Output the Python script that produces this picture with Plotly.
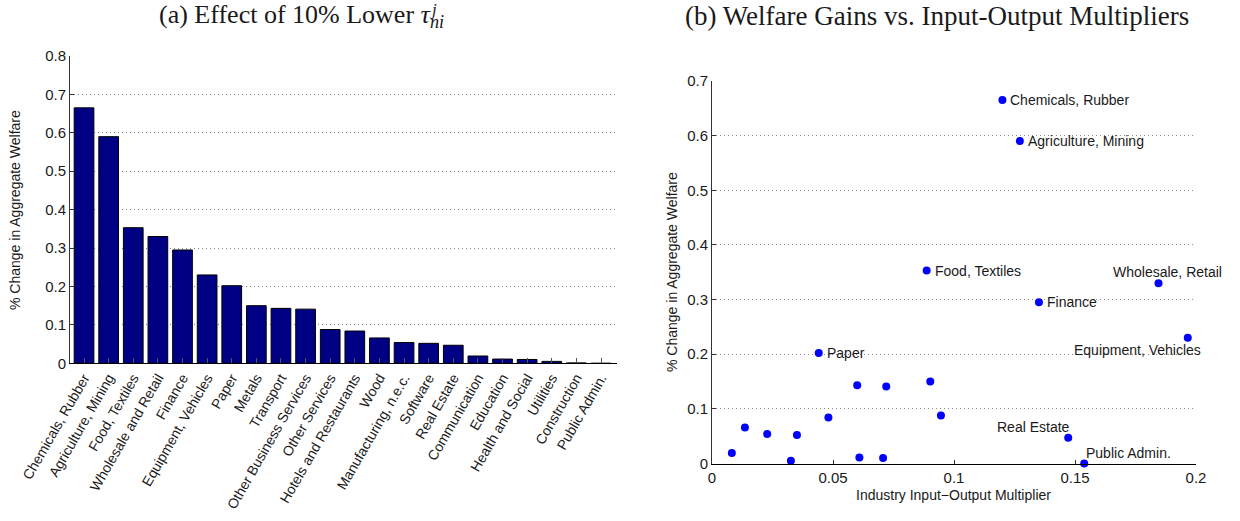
import plotly.graph_objects as go

# ---------------- data ----------------
sectors = [
    "Chemicals, Rubber", "Agriculture, Mining", "Food, Textiles", "Wholesale and Retail",
    "Finance", "Equipment, Vehicles", "Paper", "Metals", "Transport",
    "Other Business Services", "Other Services", "Hotels and Restaurants", "Wood",
    "Manufacturing, n.e.c.", "Software", "Real Estate", "Communication", "Education",
    "Health and Social", "Utilities", "Construction", "Public Admin.",
]
welfare_change = [
    0.665, 0.590, 0.353, 0.330, 0.295, 0.230, 0.202, 0.150, 0.143, 0.141, 0.088,
    0.084, 0.066, 0.054, 0.052, 0.047, 0.019, 0.011, 0.010, 0.005, 0.001, 0.000,
]
io_multiplier = [
    0.1200, 0.1272, 0.0887, 0.1845, 0.1351, 0.1966, 0.0441, 0.0902, 0.0600, 0.0720,
    0.0946, 0.0481, 0.0136, 0.0228, 0.0351, 0.1472, 0.0082, 0.0609, 0.0707, 0.0326,
    None, 0.1538,
]
point_labels = [
    "Chemicals, Rubber", "Agriculture, Mining", "Food, Textiles", "Wholesale, Retail",
    "Finance", "Equipment, Vehicles", "Paper", "", "", "", "", "", "", "", "",
    "Real Estate", "", "", "", "", "", "Public Admin.",
]
y_ticks_a = [0, 0.1, 0.2, 0.3, 0.4, 0.5, 0.6, 0.7, 0.8]
y_ticks_b = [0, 0.1, 0.2, 0.3, 0.4, 0.5, 0.6, 0.7]
x_ticks_b = [0, 0.05, 0.1, 0.15, 0.2]

# ---------------- styling ----------------
W, H = 1240, 521
SANS = "Liberation Sans, Arial, sans-serif"
SERIF = "Liberation Serif, Times New Roman, serif"
TXT = "#1a1a1a"
BAR_FILL = "#000085"
DOT = "#0000ff"
GRID = "#8a8a8a"
GRID_DASH = "1px,3px"


def px(x):
    return x / W


def py(y):
    return 1 - y / H


# label placement for the scatter annotations: (xanchor, xshift, yshift)
label_place = {
    "Wholesale, Retail": ("center", 9, 11),
    "Equipment, Vehicles": ("right", 15, -12),
    "Real Estate": ("right", 4, 11),
    "Public Admin.": ("left", 0, 11),
}


def tick_text(v):
    return "0" if v == 0 else ("%g" % v)


fig = go.Figure()

fig.add_trace(go.Bar(
    x=sectors, y=welfare_change, xaxis="x", yaxis="y",
    marker=dict(color=BAR_FILL, line=dict(color="#000000", width=1)),
    showlegend=False,
))

mx = [m for m in io_multiplier if m is not None]
my = [w for m, w in zip(io_multiplier, welfare_change) if m is not None]
fig.add_trace(go.Scatter(
    x=mx, y=my, xaxis="x2", yaxis="y2", mode="markers",
    marker=dict(color=DOT, size=8, line=dict(width=0)),
    showlegend=False, cliponaxis=False,
))

annotations = []
for m, w, lab in zip(io_multiplier, welfare_change, point_labels):
    if not lab or m is None:
        continue
    xa, xs, ys = label_place.get(lab, ("left", 6, 0))
    annotations.append(dict(
        x=m, y=w, xref="x2", yref="y2", text=lab, showarrow=False,
        xanchor=xa, yanchor="middle", xshift=xs, yshift=ys,
        font=dict(family=SANS, size=14, color=TXT),
    ))

# panel titles
annotations += [
    dict(x=px(446), y=py(16), xref="paper", yref="paper", xanchor="right", yanchor="middle",
         text="(a) Effect of 10% Lower <i>τ</i><sub><i>ni</i></sub>", showarrow=False,
         font=dict(family=SERIF, size=26, color=TXT)),
    dict(x=px(433), y=py(10), xref="paper", yref="paper", xanchor="center", yanchor="middle",
         text="<i>j</i>", showarrow=False, font=dict(family=SERIF, size=17, color=TXT)),
    dict(x=px(937), y=py(16), xref="paper", yref="paper", xanchor="center", yanchor="middle",
         text="(b) Welfare Gains vs. Input-Output Multipliers", showarrow=False,
         font=dict(family=SERIF, size=27, color=TXT)),
    # axis titles
    dict(x=px(15), y=py(210), xref="paper", yref="paper", xanchor="center", yanchor="middle",
         text="% Change in Aggregate Welfare", textangle=-90, showarrow=False,
         font=dict(family=SANS, size=14, color=TXT)),
    dict(x=px(672), y=py(272), xref="paper", yref="paper", xanchor="center", yanchor="middle",
         text="% Change in Aggregate Welfare", textangle=-90, showarrow=False,
         font=dict(family=SANS, size=14, color=TXT)),
    dict(x=px(953), y=py(495), xref="paper", yref="paper", xanchor="center", yanchor="middle",
         text="Industry Input\u2212Output Multiplier", showarrow=False,
         font=dict(family=SANS, size=14, color=TXT)),
]

axis_common = dict(
    showline=True, zeroline=False, ticks="inside", ticklen=4, automargin=False,
    tickfont=dict(family=SANS, size=15, color=TXT),
)

fig.update_layout(
    template="none",
    width=W, height=H,
    margin=dict(l=0, r=0, t=0, b=0, pad=0),
    paper_bgcolor="white", plot_bgcolor="white",
    bargap=0.2,
    annotations=annotations,
    xaxis=dict(
        domain=[px(70), px(617)], anchor="y", type="category",
        categoryorder="array", categoryarray=sectors,
        range=[-0.57, 21.65], showgrid=False, automargin=False,
        showline=True, linecolor="#000000", linewidth=1, zeroline=False,
        ticks="inside", ticklen=5, tickcolor="#555555",
        tickangle=-60, tickfont=dict(family=SANS, size=14, color=TXT),
    ),
    yaxis=dict(
        domain=[py(363.3), py(56)], anchor="x", range=[0, 0.8],
        tickvals=y_ticks_a, ticktext=[tick_text(v) for v in y_ticks_a],
        showgrid=True, gridcolor=GRID, griddash=GRID_DASH, gridwidth=1,
        linecolor="#333333", tickcolor="#333333", **axis_common,
    ),
    xaxis2=dict(
        domain=[px(712), px(1196)], anchor="y2", range=[0, 0.2],
        tickvals=x_ticks_b, ticktext=[tick_text(v) for v in x_ticks_b],
        showgrid=False, linecolor="#000000", tickcolor="#333333", **axis_common,
    ),
    yaxis2=dict(
        domain=[py(463.5), py(81)], anchor="x2", range=[0, 0.7],
        tickvals=y_ticks_b, ticktext=[tick_text(v) for v in y_ticks_b],
        showgrid=True, gridcolor=GRID, griddash=GRID_DASH, gridwidth=1,
        linecolor="#333333", tickcolor="#333333", **axis_common,
    ),
)

fig.write_html("out.html")
